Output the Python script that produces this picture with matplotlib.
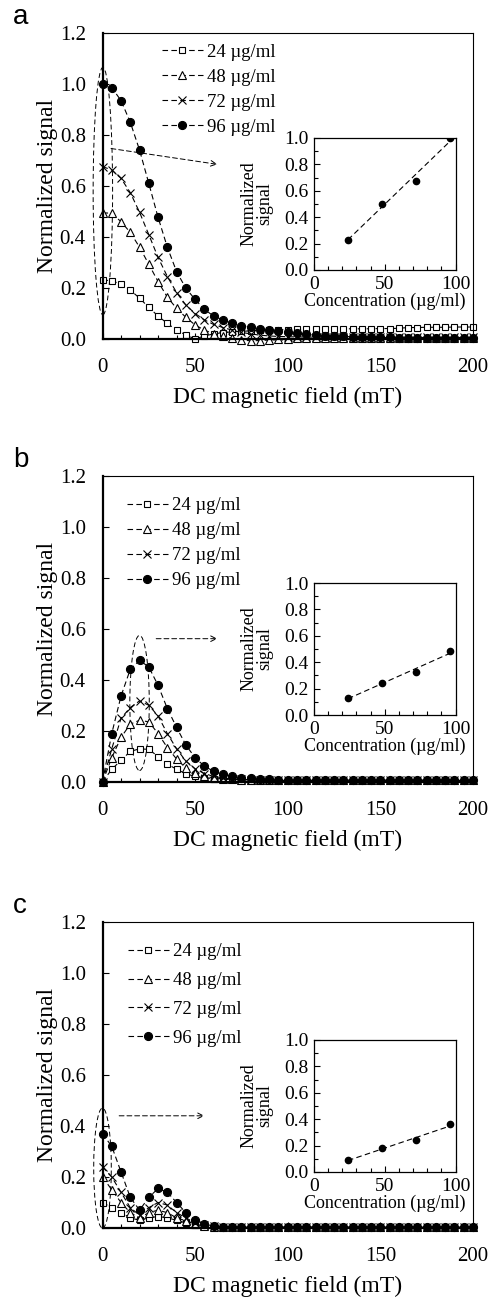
import numpy as np
import matplotlib
matplotlib.use("Agg")
from matplotlib import pyplot as plt
from matplotlib.patches import Ellipse
from matplotlib.ticker import MultipleLocator

plt.rcParams['font.family'] = ['Liberation Serif', 'DejaVu Serif']

# ---- data -------------------------------------------------------------
field = [0, 5, 10, 15, 20, 25, 30, 35, 40, 45, 50, 55, 60, 65, 70, 75, 80,
         85, 90, 95, 100, 105, 110, 115, 120, 125, 130, 135, 140, 145, 150,
         155, 160, 165, 170, 175, 180, 185, 190, 195, 200]
labels = ['24 \u00b5g/ml', '48 \u00b5g/ml', '72 \u00b5g/ml', '96 \u00b5g/ml']
conc = [24, 48, 72, 96]

# panel a
a_24 = [0.231, 0.229, 0.214, 0.192, 0.160, 0.124, 0.090, 0.061, 0.035, 0.016,
        0.000, 0.012, 0.020, 0.025, 0.028, 0.030, 0.032, 0.034, 0.035, 0.036,
        0.037, 0.038, 0.038, 0.039, 0.040, 0.040, 0.040, 0.040, 0.040, 0.040,
        0.041, 0.041, 0.042, 0.045, 0.045, 0.046, 0.046, 0.046, 0.047, 0.047,
        0.047]
a_48 = [0.495, 0.493, 0.460, 0.418, 0.360, 0.293, 0.225, 0.164, 0.120, 0.085,
        0.055, 0.035, 0.020, 0.010, 0.003, -0.004, -0.007, -0.006, -0.003,
        0.000, 0.001, 0.002, 0.002, 0.002, 0.002, 0.002, 0.002, 0.002, 0.002,
        0.002, 0.002, 0.002, 0.002, 0.002, 0.002, 0.002, 0.002, 0.002, 0.002,
        0.002, 0.002]
a_72 = [0.676, 0.663, 0.630, 0.574, 0.497, 0.409, 0.320, 0.245, 0.182, 0.133,
        0.100, 0.075, 0.057, 0.045, 0.035, 0.026, 0.020, 0.015, 0.012, 0.010,
        0.009, 0.008, 0.008, 0.007, 0.007, 0.007, 0.006, 0.006, 0.006, 0.006,
        0.006, 0.006, 0.006, 0.006, 0.006, 0.006, 0.006, 0.006, 0.006, 0.006,
        0.006]
a_96 = [1.000, 0.986, 0.935, 0.850, 0.741, 0.610, 0.477, 0.360, 0.264, 0.199,
        0.155, 0.116, 0.090, 0.075, 0.061, 0.051, 0.046, 0.040, 0.035, 0.030,
        0.026, 0.022, 0.018, 0.015, 0.013, 0.011, 0.010, 0.009, 0.008, 0.007,
        0.006, 0.006, 0.005, 0.005, 0.005, 0.004, 0.004, 0.004, 0.004, 0.004,
        0.004]
a_inset = [0.231, 0.500, 0.675, 1.000]

# panel b
b_24 = [0.000, 0.050, 0.085, 0.120, 0.130, 0.128, 0.100, 0.070, 0.050, 0.032,
        0.022, 0.017, 0.013, 0.011, 0.010, 0.009, 0.008, 0.008, 0.008, 0.007,
        0.007, 0.007, 0.007, 0.007, 0.007, 0.007, 0.007, 0.007, 0.007, 0.007,
        0.007, 0.007, 0.007, 0.007, 0.007, 0.007, 0.007, 0.007, 0.007, 0.007,
        0.007]
b_48 = [0.000, 0.095, 0.175, 0.227, 0.242, 0.236, 0.190, 0.135, 0.090, 0.055,
        0.035, 0.023, 0.016, 0.012, 0.010, 0.009, 0.008, 0.007, 0.007, 0.006,
        0.006, 0.006, 0.006, 0.006, 0.006, 0.006, 0.006, 0.006, 0.006, 0.006,
        0.006, 0.006, 0.006, 0.006, 0.006, 0.006, 0.006, 0.006, 0.006, 0.006,
        0.006]
b_72 = [0.000, 0.130, 0.250, 0.292, 0.318, 0.301, 0.259, 0.190, 0.130, 0.082,
        0.052, 0.033, 0.022, 0.016, 0.012, 0.010, 0.009, 0.008, 0.007, 0.007,
        0.006, 0.006, 0.006, 0.006, 0.006, 0.006, 0.006, 0.006, 0.006, 0.006,
        0.006, 0.006, 0.006, 0.006, 0.006, 0.006, 0.006, 0.006, 0.006, 0.006,
        0.006]
b_96 = [0.000, 0.190, 0.337, 0.442, 0.477, 0.451, 0.379, 0.288, 0.214, 0.145,
        0.095, 0.062, 0.042, 0.030, 0.022, 0.017, 0.014, 0.012, 0.010, 0.009,
        0.008, 0.008, 0.007, 0.007, 0.007, 0.007, 0.007, 0.007, 0.007, 0.007,
        0.007, 0.007, 0.007, 0.007, 0.007, 0.007, 0.007, 0.007, 0.007, 0.007,
        0.007]
b_inset = [0.128, 0.245, 0.323, 0.484]

# panel c
c_24 = [0.100, 0.080, 0.060, 0.040, 0.030, 0.040, 0.045, 0.040, 0.030, 0.020,
        0.010, 0.006, 0.004, 0.003, 0.003, 0.003, 0.003, 0.003, 0.003, 0.003,
        0.003, 0.003, 0.003, 0.003, 0.003, 0.003, 0.003, 0.003, 0.003, 0.003,
        0.003, 0.003, 0.003, 0.003, 0.003, 0.003, 0.003, 0.003, 0.003, 0.003,
        0.003]
c_48 = [0.200, 0.150, 0.100, 0.060, 0.040, 0.060, 0.070, 0.060, 0.040, 0.028,
        0.015, 0.008, 0.005, 0.004, 0.003, 0.003, 0.003, 0.003, 0.003, 0.003,
        0.003, 0.003, 0.003, 0.003, 0.003, 0.003, 0.003, 0.003, 0.003, 0.003,
        0.003, 0.003, 0.003, 0.003, 0.003, 0.003, 0.003, 0.003, 0.003, 0.003,
        0.003]
c_72 = [0.240, 0.200, 0.140, 0.080, 0.050, 0.080, 0.100, 0.090, 0.060, 0.040,
        0.020, 0.010, 0.006, 0.004, 0.003, 0.003, 0.003, 0.003, 0.003, 0.003,
        0.003, 0.003, 0.003, 0.003, 0.003, 0.003, 0.003, 0.003, 0.003, 0.003,
        0.003, 0.003, 0.003, 0.003, 0.003, 0.003, 0.003, 0.003, 0.003, 0.003,
        0.003]
c_96 = [0.370, 0.320, 0.220, 0.120, 0.070, 0.120, 0.155, 0.140, 0.100, 0.060,
        0.030, 0.015, 0.008, 0.005, 0.004, 0.003, 0.003, 0.003, 0.003, 0.003,
        0.003, 0.003, 0.003, 0.003, 0.003, 0.003, 0.003, 0.003, 0.003, 0.003,
        0.003, 0.003, 0.003, 0.003, 0.003, 0.003, 0.003, 0.003, 0.003, 0.003,
        0.003]
c_inset = [0.090, 0.180, 0.240, 0.360]

# ---- layout helpers (pixel boxes of the reference) ----------------------
W, H = 501, 1304
fig = plt.figure(figsize=(W / 100, H / 100), dpi=100)


def box(l, t, r, b):
    return [l / W, 1 - b / H, (r - l) / W, (b - t) / H]


markers = [dict(marker='s', mfc='white', ms=5),
           dict(marker='^', mfc='white', ms=5.5),
           dict(marker='x', mfc='none', ms=6),
           dict(marker='o', mfc='black', ms=5.8)]


def main_panel(top, series, inset_vals, inset_top, leg_xy, leg_space,
               ell, arrow, letter):
    ax = fig.add_axes(box(102.5, top, 473, top + 306))
    for ys, lab, mk in zip(series, labels, markers):
        ax.plot(field, ys, color='black', lw=0.8, ls=(0, (5, 3)),
                mec='black', mew=0.8, label=lab, clip_on=False, **mk)
    ax.set_xlim(0, 200)
    ax.set_ylim(0, 1.2)
    ax.xaxis.set_major_locator(MultipleLocator(50))
    ax.xaxis.set_minor_locator(MultipleLocator(10))
    ax.yaxis.set_major_locator(MultipleLocator(0.2))
    ax.yaxis.set_major_formatter(plt.FormatStrFormatter('%.1f'))
    ax.tick_params(which='both', direction='in', labelsize=15, top=False,
                   right=False)
    ax.tick_params(axis='x', pad=14)
    ax.tick_params(axis='y', pad=12)
    ax.tick_params(which='major', length=4, width=0.8)
    ax.tick_params(which='minor', length=3, width=0.8)
    for s in ax.spines.values():
        s.set_linewidth(0.8)
    ax.spines['left'].set_linewidth(1.6)
    ax.spines['bottom'].set_linewidth(1.6)
    ax.set_xlabel('DC magnetic field (mT)', fontsize=17, labelpad=7)
    ax.set_ylabel('Normalized signal', fontsize=17, labelpad=1)
    ax.legend(loc='upper left', bbox_to_anchor=leg_xy, frameon=False,
              fontsize=13.5, handlelength=2.2, handletextpad=0.2,
              labelspacing=leg_space, borderaxespad=0)
    # dashed ellipse and arrow
    ax.add_patch(Ellipse(ell[:2], ell[2], ell[3], fill=False, ec='black',
                         lw=0.7, ls=(0, (5, 3)), clip_on=False))
    ax.annotate('', xy=arrow[2:], xytext=arrow[:2],
                arrowprops=dict(arrowstyle='->', color='black', lw=0.7,
                                ls=(0, (5, 3)), shrinkA=0, shrinkB=0))
    fig.text(13 / W, 1 - (top - 9) / H, letter, fontsize=20,
             family='Liberation Sans', va='baseline')

    ins = fig.add_axes(box(314, inset_top, 455.5, inset_top + 132))
    ins.plot(conc, inset_vals, 'o', color='black', ms=4.5)
    k, c0 = np.polyfit(conc, inset_vals, 1)
    ins.plot([conc[0], conc[-1]], [k * conc[0] + c0, k * conc[-1] + c0],
             color='black', lw=0.8, ls=(0, (5, 3)))
    ins.set_xlim(0, 100)
    ins.set_ylim(0, 1.0)
    ins.xaxis.set_major_locator(MultipleLocator(50))
    ins.xaxis.set_minor_locator(MultipleLocator(10))
    ins.yaxis.set_major_locator(MultipleLocator(0.2))
    ins.yaxis.set_minor_locator(MultipleLocator(0.1))
    ins.yaxis.set_major_formatter(plt.FormatStrFormatter('%.1f'))
    ins.tick_params(which='both', direction='in', labelsize=14, pad=4)
    ins.tick_params(which='major', length=4, width=0.8)
    ins.tick_params(which='minor', length=3, width=0.8)
    for s in ins.spines.values():
        s.set_linewidth(0.9)
    ins.set_xlabel('Concentration (\u00b5g/ml)', fontsize=13, labelpad=0)
    ins.set_ylabel('Normalized\nsignal', fontsize=13, labelpad=8,
                   linespacing=0.85)
    return ax


main_panel(33, [a_24, a_48, a_72, a_96], a_inset, 138, (0.14, 0.99), 0.42,
           (0.2, 0.58, 10.5, 0.97), (4.6, 0.747, 62, 0.685), 'a')
main_panel(476, [b_24, b_48, b_72, b_96], b_inset, 583, (0.045, 0.955), 0.42,
           (20, 0.31, 10.5, 0.53), (29, 0.562, 62, 0.562), 'b')
main_panel(922, [c_24, c_48, c_72, c_96], c_inset, 1040, (0.048, 0.955), 0.62,
           (0, 0.235, 9.5, 0.47), (9, 0.44, 55, 0.44), 'c')

fig.savefig('out.png', dpi=100)
